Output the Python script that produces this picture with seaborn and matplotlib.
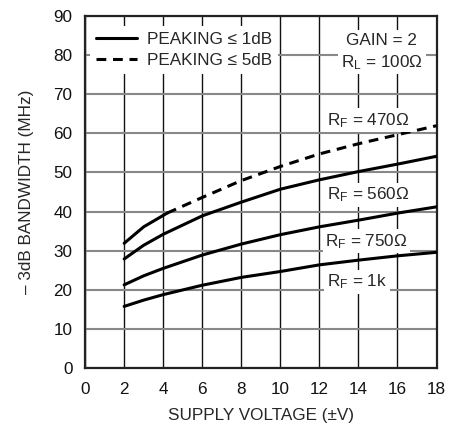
import numpy as np
import pandas as pd
import matplotlib
matplotlib.use("Agg")
import matplotlib.pyplot as plt
import seaborn as sns
from matplotlib.lines import Line2D

# ---- data ----
supply_v = [2, 3, 4, 6, 8, 10, 12, 14, 16, 18]
bw_1k = [15.8, 17.4, 18.8, 21.2, 23.2, 24.7, 26.4, 27.6, 28.7, 29.6]
bw_750 = [21.3, 23.6, 25.5, 28.9, 31.7, 34.1, 36.1, 37.8, 39.6, 41.2]
bw_560 = [27.9, 31.4, 34.2, 38.9, 42.4, 45.7, 48.1, 50.2, 52.1, 54.1]
v_470_solid = [2, 3, 4.2]
bw_470_solid = [31.9, 36.1, 39.6]
v_470_dash = [4.2, 6, 8, 10, 12, 14, 16, 18]
bw_470_dash = [39.6, 43.6, 47.9, 51.5, 54.7, 57.3, 59.6, 61.9]

x_ticks = list(range(0, 19, 2))
y_ticks = list(range(0, 91, 10))
curve_labels = ["R$_\\mathregular{F}$ = 470Ω", "R$_\\mathregular{F}$ = 560Ω",
                "R$_\\mathregular{F}$ = 750Ω", "R$_\\mathregular{F}$ = 1k"]
label_pos = [(12.4, 63.3), (12.4, 44.2), (12.3, 32.4), (12.4, 22.1)]

sns.set_style("white")
plt.rcParams['font.family'] = ['Liberation Sans', 'DejaVu Sans']
plt.rcParams['mathtext.fontset'] = 'custom'
plt.rcParams['mathtext.rm'] = 'Liberation Sans'
plt.rcParams['mathtext.it'] = 'Liberation Sans'

FS = 12.3
fig = plt.figure(figsize=(4.6, 4.26), dpi=100)
ax = fig.add_axes([0.185, 0.1354, 0.764, 0.828])

for xv, yv, ls in [(supply_v, bw_1k, '-'), (supply_v, bw_750, '-'),
                   (supply_v, bw_560, '-'), (v_470_solid, bw_470_solid, '-'),
                   (v_470_dash, bw_470_dash, (0, (3.2, 2.2)))]:
    df = pd.DataFrame({"v": xv, "bw": yv})
    sns.lineplot(data=df, x="v", y="bw", ax=ax, color='black', lw=2.2,
                 linestyle=ls, zorder=3)

ax.set_xlim(0, 18)
ax.set_ylim(0, 90)
ax.set_xticks(x_ticks)
ax.set_yticks(y_ticks)
ax.tick_params(axis='both', length=0, labelsize=FS, colors='#111111')
ax.tick_params(axis='x', pad=10)
ax.tick_params(axis='y', pad=9)
ax.xaxis.grid(True, color='#111111', lw=1.0)
ax.yaxis.grid(True, color='#888888', lw=1.5)
ax.set_axisbelow(True)
for s in ax.spines.values():
    s.set_visible(True)
    s.set_linewidth(1.6)
    s.set_color('#222222')

ax.set_xlabel("SUPPLY VOLTAGE (±V)", fontsize=FS, labelpad=8)
ax.set_ylabel("– 3dB BANDWIDTH (MHz)", fontsize=FS, labelpad=14)

handles = [Line2D([], [], color='black', lw=2.2),
           Line2D([], [], color='black', lw=2.2, linestyle=(0, (3.2, 2.2)))]
leg = ax.legend(handles, ["PEAKING ≤ 1dB", "PEAKING ≤ 5dB"], loc='upper left',
                bbox_to_anchor=(0.0, 0.985), fontsize=FS, frameon=True,
                fancybox=False, framealpha=1, facecolor='white',
                handlelength=2.4, handletextpad=0.55, labelspacing=0.35,
                borderpad=0.35, borderaxespad=0.3)
leg.get_frame().set_linewidth(0)
leg.set_zorder(4)

ax.text(15.2, 83.7, "GAIN = 2", ha='center', va='center', fontsize=FS,
        zorder=4, bbox=dict(facecolor='white', edgecolor='none', pad=2))
ax.text(15.2, 78.1, "R$_\\mathregular{L}$ = 100Ω", ha='center', va='center',
        fontsize=FS, zorder=4,
        bbox=dict(facecolor='white', edgecolor='none', pad=2))

for lab, (lx, ly) in zip(curve_labels, label_pos):
    ax.text(lx, ly, lab, ha='left', va='center', fontsize=FS, zorder=4,
            bbox=dict(facecolor='white', edgecolor='none', pad=2))

fig.savefig("out.png", dpi=100)
